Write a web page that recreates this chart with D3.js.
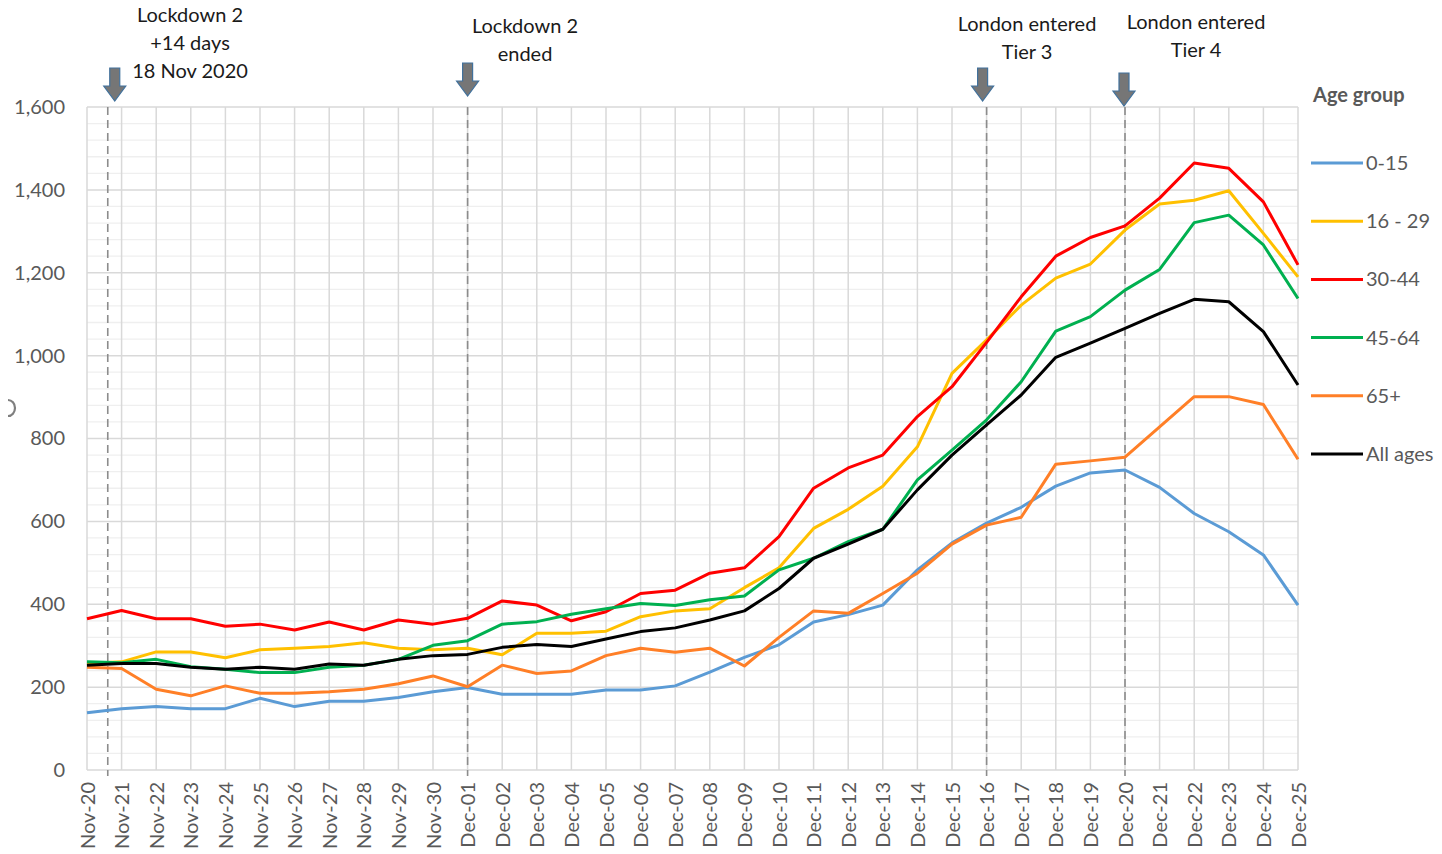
<!DOCTYPE html>
<html>
<head>
<meta charset="utf-8">
<script src="https://cdn.jsdelivr.net/npm/d3@7"></script>
<style>
  body { margin: 0; background: #fff; }
  svg { display: block; font-family: Lato, "Open Sans", sans-serif; }
</style>
</head>
<body>
<div id="chart"></div>
<script>
// categories (day labels)
var days = ["Nov-20","Nov-21","Nov-22","Nov-23","Nov-24","Nov-25","Nov-26","Nov-27","Nov-28","Nov-29","Nov-30",
  "Dec-01","Dec-02","Dec-03","Dec-04","Dec-05","Dec-06","Dec-07","Dec-08","Dec-09","Dec-10",
  "Dec-11","Dec-12","Dec-13","Dec-14","Dec-15","Dec-16","Dec-17","Dec-18","Dec-19","Dec-20",
  "Dec-21","Dec-22","Dec-23","Dec-24","Dec-25"];

var groups = ["0-15", "16 - 29", "30-44", "45-64", "65+", "All ages"];
var colors = ["#5b9bd5", "#ffc000", "#ff0000", "#00b050", "#ff7f27", "#000000"];

var age0_15 = [138,148,153,148,148,173,153,166,166,175,189,199,183,183,183,193,193,203,236,272,302,
  357,375,398,483,548,596,634,685,717,724,682,619,575,519,398];
var age16_29 = [257,261,285,285,271,290,294,298,307,294,290,294,278,330,330,335,370,384,389,440,488,
  583,629,685,780,957,1038,1122,1187,1221,1303,1366,1375,1398,1295,1190];
var age30_44 = [365,385,365,365,347,352,338,357,338,362,352,366,408,398,360,382,426,434,475,488,563,
  680,729,760,853,925,1032,1142,1240,1285,1313,1380,1465,1452,1371,1219];
var age45_64 = [261,259,267,249,243,235,235,248,253,267,301,312,352,358,376,389,402,397,411,420,483,
  511,551,581,700,772,845,937,1059,1094,1158,1208,1321,1339,1267,1138];
var age65plus = [248,245,195,179,203,185,185,189,195,208,227,201,253,233,239,276,294,284,294,251,320,
  384,378,426,475,545,591,610,738,746,755,828,901,901,882,750];
var allAges = [253,257,257,248,243,248,243,256,253,267,276,279,296,303,298,316,334,343,362,384,438,
  511,545,581,676,760,833,905,996,1030,1066,1102,1136,1130,1058,929];

var seriesValues = [age0_15, age16_29, age30_44, age45_64, age65plus, allAges];

var yTicks = [0, 200, 400, 600, 800, 1000, 1200, 1400, 1600];

// event markers: position in day-index units, label lines
var markerAt = [0.6, 11, 26, 30];
var markerText = [
  ["Lockdown 2", "+14 days", "18 Nov 2020"],
  ["Lockdown 2", "ended"],
  ["London entered", "Tier 3"],
  ["London entered", "Tier 4"]
];

var width = 1442, height = 854;
var plotL = 87, plotR = 1298, plotT = 107, plotB = 770;

var x = d3.scalePoint().domain(days).range([plotL, plotR]);
var xi = d3.scaleLinear().domain([0, days.length - 1]).range([plotL, plotR]);
var y = d3.scaleLinear().domain([0, 1600]).range([plotB, plotT]);

var svg = d3.select("#chart").append("svg")
  .attr("width", width).attr("height", height);

// minor gridlines
svg.append("g").selectAll("line")
  .data(d3.range(0, 1601, 40).filter(v => v % 200 !== 0))
  .join("line")
    .attr("x1", plotL).attr("x2", plotR)
    .attr("y1", d => y(d)).attr("y2", d => y(d))
    .attr("stroke", "#efefef").attr("stroke-width", 1.3);

// major gridlines
svg.append("g").selectAll("line")
  .data(yTicks)
  .join("line")
    .attr("x1", plotL).attr("x2", plotR)
    .attr("y1", d => y(d)).attr("y2", d => y(d))
    .attr("stroke", "#d9d9d9").attr("stroke-width", 1.5);

// vertical gridlines
svg.append("g").selectAll("line")
  .data(days)
  .join("line")
    .attr("x1", d => x(d)).attr("x2", d => x(d))
    .attr("y1", plotT).attr("y2", plotB)
    .attr("stroke", "#d9d9d9").attr("stroke-width", 1.5);

// y axis labels
var yAxis = svg.append("g")
  .attr("transform", `translate(${plotL - 22},0)`)
  .call(d3.axisLeft(y).tickValues(yTicks).tickSize(0).tickPadding(0).tickFormat(d3.format(",")));
yAxis.select(".domain").remove();
yAxis.selectAll("text")
  .attr("font-family", "Lato, sans-serif")
  .attr("font-size", 20).attr("fill", "#595959");

// x axis labels
var xAxis = svg.append("g")
  .attr("transform", `translate(0,${plotB})`)
  .call(d3.axisBottom(x).tickSize(0).tickPadding(0));
xAxis.select(".domain").remove();
xAxis.selectAll("text")
  .attr("font-family", "Lato, sans-serif")
  .attr("font-size", 20).attr("fill", "#595959")
  .attr("text-anchor", "end")
  .attr("dy", "0.35em")
  .attr("transform", "translate(0,12) rotate(-90)");

// remnant of the cropped y axis title (only a sliver is visible)
svg.append("path")
  .attr("d", "M8,400 A7,8 0 0 1 8,416")
  .attr("fill", "none")
  .attr("stroke", "#7f7f7f").attr("stroke-width", 2.2);

// dashed event lines
svg.append("g").selectAll("line")
  .data(markerAt)
  .join("line")
    .attr("x1", d => xi(d)).attr("x2", d => xi(d))
    .attr("y1", plotT).attr("y2", plotB + 6)
    .attr("stroke", "#8c8c8c").attr("stroke-width", 1.6)
    .attr("stroke-dasharray", "8,5");

// series lines
var line = d3.line()
  .x((d, i) => x(days[i]))
  .y(d => y(d));

svg.append("g").selectAll("path")
  .data(seriesValues)
  .join("path")
    .attr("fill", "none")
    .attr("stroke", (d, i) => colors[i])
    .attr("stroke-width", 3)
    .attr("stroke-linejoin", "round")
    .attr("d", line);

// annotation arrows and labels
var arrowLayout = [
  {dx: 7, top: 68, textX: 190, textY: 15},
  {dx: 0, top: 63, textX: 525, textY: 26},
  {dx: -4, top: 68, textX: 1027, textY: 24},
  {dx: -1, top: 73, textX: 1196, textY: 22}
];

var ann = svg.append("g").selectAll("g")
  .data(markerAt)
  .join("g");

ann.append("path")
  .attr("d", (d, i) => {
    var cx = xi(d) + arrowLayout[i].dx, t = arrowLayout[i].top;
    return `M${cx - 5},${t} L${cx + 5},${t} L${cx + 5},${t + 18} L${cx + 11},${t + 18}` +
      ` L${cx},${t + 33} L${cx - 11},${t + 18} L${cx - 5},${t + 18} Z`;
  })
  .attr("fill", "#767676")
  .attr("stroke", "#41719c").attr("stroke-width", 1.2);

ann.append("text")
  .attr("font-family", "Lato, sans-serif")
  .attr("font-size", 20).attr("fill", "#1a1a1a")
  .attr("text-anchor", "middle")
  .selectAll("tspan")
  .data((d, i) => markerText[i].map(t => ({t: t, i: i})))
  .join("tspan")
    .attr("x", d => arrowLayout[d.i].textX)
    .attr("y", (d, j) => arrowLayout[d.i].textY + j * 28)
    .attr("dy", "0.35em")
    .text(d => d.t);

// legend
var legend = svg.append("g");
legend.append("text")
  .attr("x", 1313).attr("y", 95).attr("dy", "0.35em")
  .attr("font-family", "Lato, sans-serif")
  .attr("font-size", 20).attr("font-weight", "bold").attr("fill", "#595959")
  .text("Age group");

var item = legend.selectAll("g.item")
  .data(groups)
  .join("g")
    .attr("class", "item")
    .attr("transform", (d, i) => `translate(0,${163 + i * 58.2})`);
item.append("line")
  .attr("x1", 1311).attr("x2", 1363)
  .attr("stroke", (d, i) => colors[i]).attr("stroke-width", 3);
item.append("text")
  .attr("x", 1366).attr("dy", "0.35em")
  .attr("font-family", "Lato, sans-serif")
  .attr("font-size", 20).attr("fill", "#595959")
  .text(d => d);
</script>
</body>
</html>
